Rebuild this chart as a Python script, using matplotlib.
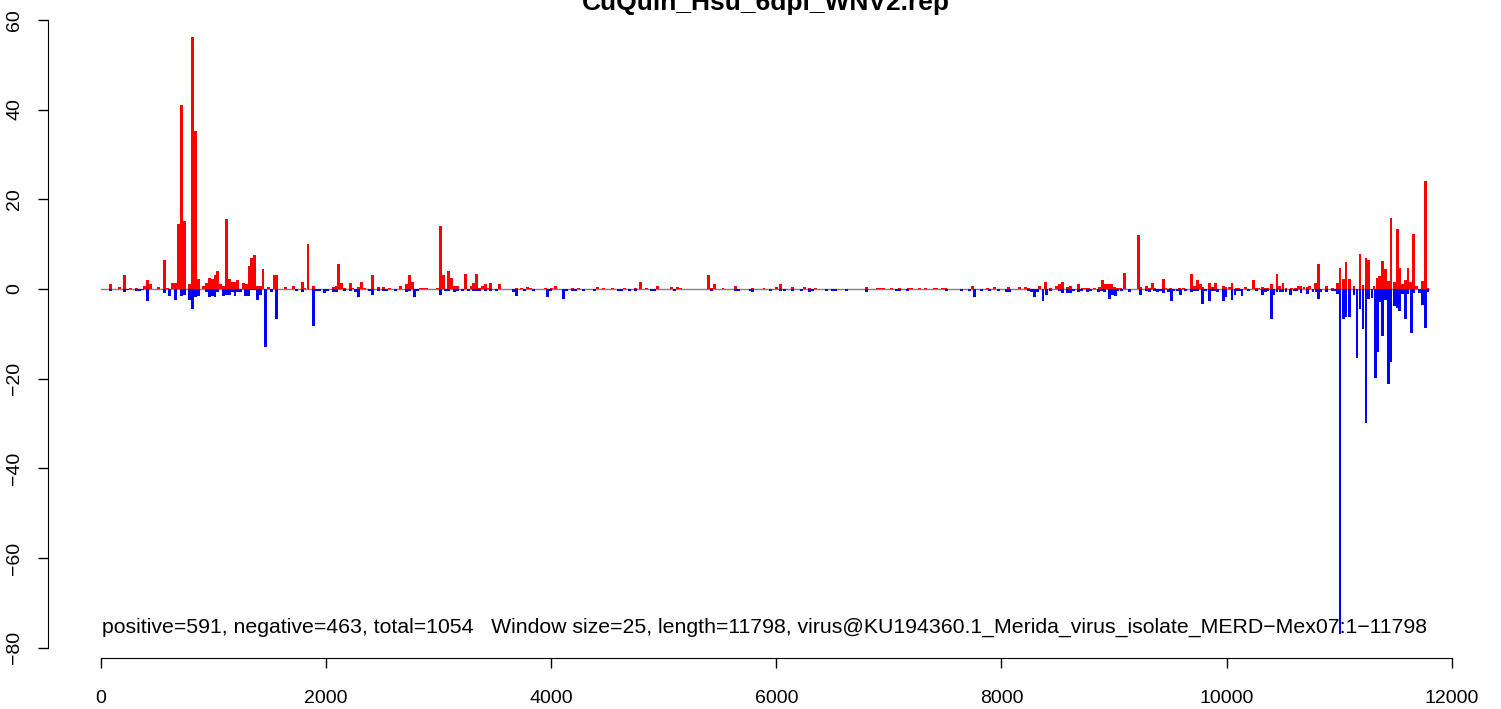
import matplotlib
matplotlib.use("Agg")
import matplotlib.pyplot as plt
import numpy as np

plt.rcParams['font.family'] = ['Liberation Sans', 'DejaVu Sans']

title = "CuQuin_Hsu_6dpi_WNV2.rep"
note = ("positive=591, negative=463, total=1054   Window size=25, length=11798, "
        "virus@KU194360.1_Merida_virus_isolate_MERD\u2212Mex07:1\u221211798")
genome_len = 11798
window = 25

# positive strand windows (center nt, value)
pos_x = [84, 164, 209, 262, 315, 386, 413, 440, 511, 564, 590, 635, 662, 688, 715, 741, 786, 812, 839, 866,
         910, 937, 963, 988, 1012, 1035, 1061, 1088, 1115, 1141, 1165, 1190, 1212, 1266, 1292, 1314, 1337,
         1363, 1390, 1414, 1438, 1488,
         1538, 1562, 1638, 1709, 1789, 1812, 1838, 1887, 2062, 2088, 2112, 2136, 2162, 2215, 2238, 2287, 2313,
         2338, 2411, 2464, 2509, 2562, 2660, 2713, 2740, 2766, 2838, 2864, 2891, 2990, 3015,
         3040, 3086, 3113, 3139, 3166, 3237, 3287, 3310, 3335, 3361, 3388, 3415, 3438, 3462, 3539, 3690, 3734,
         3787, 3813, 3947, 4000, 4036, 4187, 4240, 4410, 4462,
         4547, 4650, 4747, 4791, 4845, 4947, 5071, 5124, 5150, 5400, 5425, 5450, 5525, 5640, 5790, 5890, 6003,
         6040,
         6146, 6253, 6297, 6350, 6803, 6900, 6925, 6950, 7020, 7097, 7175, 7200, 7275, 7325, 7400, 7425, 7475,
         7500,
         7740, 7875, 7935, 8060, 8157, 8211, 8237, 8335, 8388, 8433, 8486, 8513, 8540, 8584, 8610, 8681, 8720,
         8750, 8775, 8828, 8873, 8899, 8926, 8952, 8979, 9005, 9030, 9055,
         9091, 9215, 9240, 9286, 9313, 9339, 9362, 9437, 9462, 9500, 9580, 9620, 9686, 9712, 9739, 9766, 9790,
         9846, 9872, 9899, 9970, 9996, 10023, 10049, 10085, 10110, 10165, 10236, 10263, 10289, 10316, 10343,
         10369, 10396, 10449, 10473, 10502, 10529, 10574,
         10610, 10636, 10662, 10689, 10716, 10740, 10787, 10814, 10885, 10938, 10983, 11009, 11036, 11062,
         11089, 11133, 11186, 11213, 11240, 11264, 11311, 11338, 11362, 11386, 11409, 11436, 11462, 11489,
         11516, 11540, 11562, 11587, 11612, 11636, 11660, 11685, 11738, 11765, 11790]
pos_y = [1.0, 0.5, 3.2, 0.3, 0.3, 0.7, 1.9, 1.0, 0.5, 6.5, 0.3, 1.4, 1.4, 14.5, 41.0, 15.2, 1.0, 56.2, 35.3, 2.3,
         0.7, 1.4, 2.5, 2.3, 3.0, 3.9, 1.0, 0.7, 15.5, 2.1, 1.6, 1.6, 1.9, 1.4, 1.0, 5.0, 7.0,
         7.6, 0.7, 0.7, 4.5, 0.5,
         3.0, 3.0, 0.5, 0.7, 1.6, 0.3, 10.1, 0.7, 0.5, 0.7, 5.6, 1.4, 0.3, 1.4, 0.3, 0.5, 1.6,
         0.3, 3.0, 0.5, 0.5, 0.3, 0.7, 1.0, 3.0, 1.6, 0.2, 0.2, 0.2, 0.1, 14.0,
         3.0, 3.9, 2.5, 0.7, 0.7, 3.4, 0.7, 1.4, 3.4, 0.1, 0.7, 1.0, 0.3, 1.4, 1.0, 0.3, 0.3,
         0.5, 0.1, 0.1, 0.3, 0.7, 0.1, 0.1, 0.5, 0.1,
         0.3, 0.1, 0.1, 1.6, 0.1, 0.7, 0.5, 0.5, 0.3, 3.0, 0.3, 1.0, 0.1, 0.7, 0.3, 0.1, 0.5,
         1.0,
         0.5, 0.5, 0.3, 0.3, 0.5, 0.1, 0.1, 0.1, 0.1, 0.3, 0.1, 0.1, 0.3, 0.1, 0.1, 0.1, 0.1,
         0.1,
         0.7, 0.1, 0.5, 0.5, 0.5, 0.5, 0.3, 0.7, 1.6, 0.3, 0.7, 1.2, 1.6, 0.5, 0.7, 1.2, 0.1,
         0.1, 0.3, 0.3, 0.5, 1.9, 1.0, 1.0, 1.0, 0.5, 0.1, 0.1,
         3.6, 12.1, 0.5, 0.7, 0.3, 1.4, 0.3, 2.1, 0.1, 0.1, 0.1, 0.3, 3.4, 0.7, 1.9, 1.2, 0.5,
         1.4, 0.5, 1.4, 0.7, 0.5, 0.5, 1.4, 0.3, 0.1, 0.5, 1.9, 0.3, 0.3, 0.5, 0.1,
         0.3, 1.0, 3.4, 0.7, 1.4, 0.1, 0.3,
         0.2, 0.7, 0.7, 0.5, 0.5, 0.7, 1.3, 5.6, 0.7, 0.2, 1.3, 4.7, 2.2, 6.0,
         2.2, 0.7, 7.8, 0.9, 6.9, 6.5, 0.7, 2.5, 2.9, 6.2, 4.5, 1.8, 15.8, 1.6,
         13.4, 4.7, 1.1, 2.0, 4.7, 1.6, 12.3, 0.7, 1.8, 24.0, 0.2]

# negative strand windows (center nt, value)
neg_x = [84, 209, 235, 315, 342, 368, 413, 564, 608, 662, 715, 741, 786, 812, 839, 866, 937, 963, 988, 1012,
         1035, 1088, 1115, 1141, 1165, 1190, 1212, 1239, 1286, 1312, 1337, 1363, 1390, 1414, 1461,
         1514, 1562, 1736, 1789, 1887, 1914, 1940, 1985, 2010, 2065, 2091, 2162, 2215, 2260, 2287, 2384, 2411,
         2464, 2509, 2535, 2615, 2713, 2740, 2784, 2811, 3015,
         3060, 3086, 3139, 3164, 3210, 3264, 3310, 3335, 3361, 3415, 3459, 3512, 3663, 3690, 3761, 3840, 3965,
         3990, 4107, 4132, 4187, 4213, 4285, 4382,
         4600, 4627, 4694, 4747, 4894, 4920, 5097, 5423, 5640, 5667, 5765, 5790, 5950, 6040,
         6070, 6146, 6222, 6297, 6323, 6448, 6502, 6528, 6626, 6803, 7070, 7097, 7163, 7510,
         7648, 7714, 7758, 7825, 7896, 7975, 8046, 8073, 8237, 8264, 8291, 8317, 8370, 8397, 8433, 8513, 8540,
         8584, 8610, 8637, 8681, 8708, 8761, 8788, 8860, 8886, 8913, 8957, 8984, 9010, 9036,
         9064, 9135, 9233, 9286, 9313, 9357, 9384, 9410, 9437, 9481, 9508, 9534, 9561, 9588, 9632, 9686, 9712,
         9739, 9783, 9810, 9846, 9872, 9899, 9917, 9970, 9996, 10049, 10076, 10100, 10120, 10138, 10192,
         10263, 10316, 10343, 10369, 10396, 10422, 10449, 10476, 10502, 10529, 10565,
         10600, 10625, 10662, 10716, 10769, 10796, 10814, 10840, 10885, 10938, 10960, 10983, 11009, 11036,
         11062, 11089, 11133, 11160, 11186, 11213, 11240, 11264, 11293, 11320, 11346, 11364, 11386, 11409,
         11436, 11462, 11489, 11516, 11540, 11562, 11587, 11612, 11640, 11660, 11711, 11738, 11765, 11790]
neg_y = [-0.4, -0.7, -0.3, -0.4, -0.5, -0.3, -2.7, -1.0, -1.5, -2.4, -1.6, -1.3, -2.4, -4.4, -1.8, -1.6, -0.6,
         -1.9, -1.5, -1.9, -0.6, -1.6, -1.3, -1.3, -0.6, -1.6, -0.6, -0.7, -1.5, -1.6, -0.3, -0.3, -2.4, -1.3,
         -13.0,
         -0.7, -6.6, -0.4, -0.8, -8.3, -0.4, -0.4, -1.0, -0.4, -0.6, -0.6, -0.4, -0.4, -0.8, -1.9, -0.4, -1.3,
         -0.4, -0.4, -0.4, -0.4, -0.6, -0.4, -1.7, -0.4, -1.3,
         -0.4, -0.4, -0.6, -0.4, -0.4, -0.4, -0.4, -0.4, -0.4, -0.4, -0.4, -0.4, -0.8, -1.5, -0.4, -0.4, -1.9,
         -0.4, -2.2, -0.4, -0.4, -0.4, -0.4, -0.4,
         -0.4, -0.4, -0.4, -0.4, -0.4, -0.4, -0.4, -0.4, -0.4, -0.4, -0.4, -0.6, -0.4, -0.4,
         -0.4, -0.4, -0.4, -0.6, -0.4, -0.4, -0.4, -0.4, -0.4, -0.8, -0.4, -0.4, -0.4, -0.4,
         -0.4, -0.4, -1.9, -0.4, -0.4, -0.4, -0.6, -0.8, -0.4, -0.6, -1.7, -0.8, -2.8, -1.3, -0.4, -0.4, -1.0,
         -1.0, -1.0, -0.4, -0.6, -0.4, -0.6, -0.4, -0.8, -0.4, -0.8, -2.2, -1.3, -1.5, -0.4,
         -0.4, -0.6, -1.3, -0.4, -0.6, -0.4, -0.8, -0.4, -1.0, -0.6, -2.8, -0.4, -0.4, -1.3, -0.4, -0.8, -0.4,
         -0.4, -3.3, -0.4, -2.8, -0.4, -0.4, -0.8, -2.6, -1.9, -2.4, -1.3, -0.4, -0.4, -1.5, -0.4,
         -0.4, -1.3, -0.8, -0.4, -6.8, -1.3, -0.6, -0.6, -0.6, -0.6, -1.3,
         -0.4, -0.4, -0.9, -1.1, -0.7, -0.7, -2.2, -0.7, -0.7, -0.4, -0.4, -1.1, -77.0, -6.7,
         -6.3, -6.2, -1.3, -15.4, -4.5, -8.9, -29.8, -2.3, -2.0, -19.8, -14.0, -2.9, -10.4, -2.5,
         -21.1, -16.2, -3.8, -4.2, -4.9, -1.1, -6.7, -1.1, -9.8, -0.9, -1.0, -3.6, -8.8, -0.6]

W, H = 1501, 709
fig = plt.figure(figsize=(W / 100, H / 100), dpi=100)
ax = fig.add_axes([48 / W, 1 - 658 / H, (1482 - 48) / W, (658 - 14) / H])

pad_x = 0.04 * genome_len
ax.set_xlim(-pad_x, genome_len + pad_x)
ax.set_ylim(-82.3, 61.3)

# summary line sits under the bars
ax.text(genome_len / 2, -75.4, note, ha='center', va='center', fontsize=15.3, zorder=1)

ax.plot([0, genome_len], [0, 0], color='#808080', lw=1, zorder=1)
ax.bar(pos_x, pos_y, width=window, color='#FF0000', linewidth=0, zorder=2)
ax.bar(neg_x, neg_y, width=window, color='#0000FF', linewidth=0, zorder=2)

for s in ['top', 'right']:
    ax.spines[s].set_visible(False)
ax.spines['left'].set_bounds(-80, 60)
ax.spines['bottom'].set_bounds(0, 12000)
ax.set_xticks(np.arange(0, 12001, 2000))
ax.set_yticks(np.arange(-80, 61, 20))
ax.tick_params(direction='out', length=7, width=1, labelsize=14)
ax.tick_params(axis='x', pad=16)
ax.tick_params(axis='y', pad=11)
for lbl in ax.get_yticklabels():
    lbl.set_rotation(90)
    lbl.set_va('center')

fig.text(766 / W, 1 - 10 / H, title, ha='center', va='baseline', fontsize=19, fontweight='bold')

fig.savefig('out.png', dpi=100)
